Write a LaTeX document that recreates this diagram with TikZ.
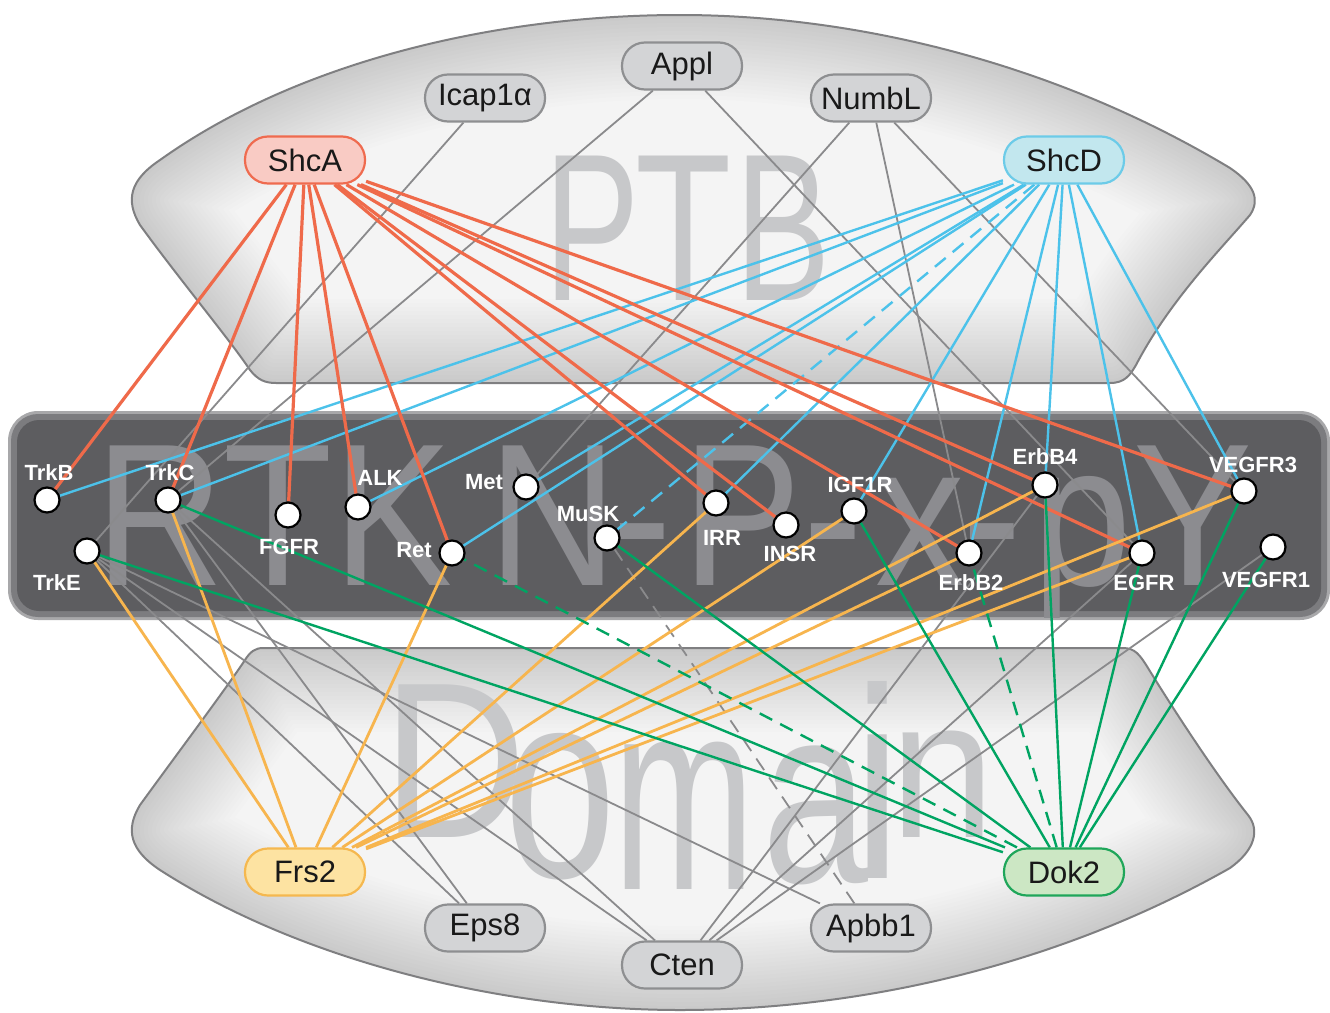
\documentclass[tikz,border=0pt]{standalone}
\usepackage{fontspec}
\usepackage{graphicx}
\setmainfont{Liberation Sans}
\definecolor{redE}{HTML}{EF6A4A}
\definecolor{blueE}{HTML}{4CC2EA}
\definecolor{orE}{HTML}{F7B54E}
\definecolor{grE}{HTML}{00A462}
\definecolor{grayE}{HTML}{8A8A8C}
\definecolor{shcaF}{HTML}{F9CBC4}
\definecolor{shcaD}{HTML}{EF6B4F}
\definecolor{shcdF}{HTML}{C2E7EE}
\definecolor{shcdD}{HTML}{6CCBE8}
\definecolor{frsF}{HTML}{FDE3A2}
\definecolor{frsD}{HTML}{F5B84F}
\definecolor{dokF}{HTML}{CCE7C4}
\definecolor{dokD}{HTML}{1FA65A}
\definecolor{gnF}{HTML}{D3D4D6}
\definecolor{gnD}{HTML}{8E8F91}
\definecolor{bandC}{HTML}{5D5D60}
\definecolor{bandM}{HTML}{7C7C7F}
\definecolor{bandO}{HTML}{A8A8AA}
\definecolor{bandT}{HTML}{8C8C90}
\definecolor{wmC}{HTML}{C7C8CA}
\definecolor{shapeF}{HTML}{F4F4F4}
\definecolor{shapeD}{HTML}{7F7F81}
\pgfdeclarelayer{bglayer}
\pgfdeclarelayer{edgelayer}
\pgfsetlayers{bglayer,edgelayer,main}
\tikzset{
  pnode/.style={rectangle, rounded corners=23pt, minimum width=120pt, minimum height=47pt,
    inner sep=0pt, line width=2.2pt, font=\fontsize{31}{36}\selectfont, text=black!90},
  graynode/.style={pnode, fill=gnF, draw=gnD},
  rtk/.style={circle, minimum size=25pt, inner sep=0pt, fill=white, draw=black, line width=2.2pt},
  rtklab/.style={text=white, font=\bfseries\fontsize{22}{26}\selectfont, inner sep=0pt},
  wm/.style={text=wmC, inner sep=0pt, anchor=base},
  bandtxt/.style={text=bandT, inner sep=0pt, anchor=base, font=\fontsize{203}{203}\selectfont},
  redl/.style={draw=redE, line width=3.2pt},
  bluel/.style={draw=blueE, line width=2.4pt},
  orl/.style={draw=orE, line width=2.8pt},
  grl/.style={draw=grE, line width=2.4pt},
  gryl/.style={draw=grayE, line width=1.8pt},
  dsh/.style={dash pattern=on 14pt off 9pt},
  ptbpath/.style={insert path={(276,383) -- (1110,383) .. controls (1125,383) and (1130,375) .. (1136,365)
    .. controls (1170,300) and (1220,250) .. (1250,215) .. controls (1260,200) and (1255,185) .. (1230,168)
    .. controls (1050,60) and (850,15) .. (680,15) .. controls (500,15) and (300,60) .. (160,160)
    .. controls (130,180) and (125,200) .. (140,225) .. controls (180,280) and (230,340) .. (250,370)
    .. controls (258,380) and (265,383) .. (276,383) -- cycle}},
  dompath/.style={insert path={(263,648) -- (1123,648) .. controls (1135,648) and (1140,655) .. (1148,668)
    .. controls (1180,720) and (1220,780) .. (1248,815) .. controls (1260,830) and (1255,850) .. (1230,868)
    .. controls (1050,970) and (850,1010) .. (680,1010) .. controls (500,1010) and (300,960) .. (160,870)
    .. controls (130,850) and (125,830) .. (140,805) .. controls (180,750) and (225,690) .. (245,660)
    .. controls (250,652) and (255,648) .. (263,648) -- cycle}}
}
\begin{document}
\begin{tikzpicture}[x=1pt, y=-1pt]
\useasboundingbox (0,0) rectangle (1330,1012);
\begin{pgfonlayer}{bglayer}
\fill[white] (0,0) rectangle (1330,1012);
% PTB domain shape
\fill[shapeF, ptbpath];
\begin{scope}
  \clip[ptbpath];
  \foreach \w in {8,16,...,168} {\draw[line width=\w pt, black, opacity=0.0085, ptbpath];}
\end{scope}
\draw[shapeD, line width=2pt, ptbpath];
% lower domain shape
\fill[shapeF, dompath];
\begin{scope}
  \clip[dompath];
  \foreach \w in {8,16,...,168} {\draw[line width=\w pt, black, opacity=0.0085, dompath];}
\end{scope}
\draw[shapeD, line width=2pt, dompath];
% watermark PTB
\node[wm, font=\fontsize{210}{210}\selectfont] (wP) at (592,300) {\scalebox{0.68}[1]{P}};
\node[wm, font=\fontsize{210}{210}\selectfont] (wT) at (684,300) {\scalebox{0.75}[1]{T}};
\node[wm, font=\fontsize{210}{210}\selectfont] (wB) at (783,300) {\scalebox{0.68}[1]{B}};
% watermark Domain
\node[wm, font=\fontsize{222}{222}\selectfont] (wD) at (455,837) {\scalebox{0.9}[1]{D}};
\node[wm, font=\fontsize{268}{268}\selectfont] (wo) at (560,877) {\scalebox{0.75}[1]{o}};
\node[wm, font=\fontsize{274}{274}\selectfont] (wm1) at (684,889) {\scalebox{0.62}[1]{m}};
\node[wm, font=\fontsize{254}{254}\selectfont] (wa) at (815,882) {\scalebox{0.75}[1]{a}};
\node[wm, font=\fontsize{272}{272}\selectfont] (wi) at (878,878) {\scalebox{0.8}[1]{i}};
\node[wm, font=\fontsize{198}{198}\selectfont] (wn) at (943,837) {\scalebox{0.95}[1]{n}};
% dark band
\fill[bandO, rounded corners=30pt] (8,411) rectangle (1330,620);
\fill[bandM, rounded corners=27pt] (11,414) rectangle (1327,617);
\fill[bandC, rounded corners=22pt] (17,420) rectangle (1321,611);
% band text, clipped to the band
\begin{scope}
\clip[rounded corners=27pt] (11,414) rectangle (1327,617);
\node[bandtxt] (bR) at (160,585) {\scalebox{0.88}[1]{R}};
\node[bandtxt] (bT) at (278,585) {\scalebox{0.88}[1]{T}};
\node[bandtxt] (bK) at (393,585) {\scalebox{0.88}[1]{K}};
\node[bandtxt] (bN) at (553,585) {\scalebox{0.88}[1]{N}};
\node[bandtxt] (bh1) at (642,585) {\scalebox{0.88}[1]{-}};
\node[bandtxt] (bP) at (742,585) {\scalebox{0.88}[1]{P}};
\node[bandtxt] (bh2) at (833,585) {\scalebox{0.88}[1]{-}};
\node[bandtxt] (bx) at (920,585) {\scalebox{0.88}[1]{x}};
\node[bandtxt] (bh3) at (992,585) {\scalebox{0.88}[1]{-}};
\node[bandtxt] (bp) at (1082,585) {\scalebox{0.88}[1]{p}};
\node[bandtxt] (bY) at (1193,585) {\scalebox{0.88}[1]{Y}};
\end{scope}
\end{pgfonlayer}
% protein nodes
\node[pnode, fill=shcaF, draw=shcaD] (ShcA) at (305,160) {ShcA};
\node[graynode] (Icap) at (485,98) {Icap1α};
\node[graynode] (Appl) at (682,66) {Appl};
\node[graynode] (NumbL) at (871,98) {NumbL};
\node[pnode, fill=shcdF, draw=shcdD] (ShcD) at (1064,160) {ShcD};
\node[pnode, fill=frsF, draw=frsD] (Frs2) at (305,872) {Frs2};
\node[graynode] (Eps8) at (485,928) {Eps8};
\node[graynode] (Cten) at (682,965) {Cten};
\node[graynode] (Apbb1) at (871,928) {Apbb1};
\node[pnode, fill=dokF, draw=dokD] (Dok2) at (1064,872) {Dok2};
% RTK circles
\node[rtk] (TrkB) at (47,500) {};
\node[rtk] (TrkC) at (168,500) {};
\node[rtk] (TrkE) at (87,551) {};
\node[rtk] (FGFR) at (288,515) {};
\node[rtk] (ALK) at (358,507) {};
\node[rtk] (Met) at (526,487) {};
\node[rtk] (MuSK) at (607,538) {};
\node[rtk] (Ret) at (452,553) {};
\node[rtk] (IRR) at (716,503) {};
\node[rtk] (INSR) at (786,525) {};
\node[rtk] (IGF1R) at (854,511) {};
\node[rtk] (ErbB4) at (1045,485) {};
\node[rtk] (ErbB2) at (969,553) {};
\node[rtk] (EGFR) at (1142,553) {};
\node[rtk] (VEGFR3) at (1244,491) {};
\node[rtk] (VEGFR1) at (1273,547) {};
% RTK labels
\node[rtklab] (lTrkB) at (49,473) {TrkB};
\node[rtklab] (lTrkC) at (170,473) {TrkC};
\node[rtklab] (lTrkE) at (57,583) {TrkE};
\node[rtklab] (lFGFR) at (289,547) {FGFR};
\node[rtklab] (lALK) at (380,478) {ALK};
\node[rtklab] (lMet) at (484,482) {Met};
\node[rtklab] (lMuSK) at (588,514) {MuSK};
\node[rtklab] (lRet) at (414,550) {Ret};
\node[rtklab] (lIRR) at (722,538) {IRR};
\node[rtklab] (lINSR) at (790,554) {INSR};
\node[rtklab] (lIGF1R) at (860,485) {IGF1R};
\node[rtklab] (lErbB4) at (1045,457) {ErbB4};
\node[rtklab] (lErbB2) at (971,583) {ErbB2};
\node[rtklab] (lEGFR) at (1144,583) {EGFR};
\node[rtklab] (lVEGFR3) at (1253,465) {VEGFR3};
\node[rtklab] (lVEGFR1) at (1266,580) {VEGFR1};
% edges
\begin{pgfonlayer}{edgelayer}
\draw[gryl] (Icap) -- (TrkE);
\draw[gryl] (Appl) -- (TrkC);
\draw[gryl] (Appl) -- (EGFR);
\foreach \t in {Met,ErbB2,VEGFR3} {\draw[gryl] (NumbL) -- (\t);}
\foreach \t in {TrkE,TrkC} {\draw[gryl] (Eps8) -- (\t);}
\foreach \t in {TrkE,TrkC,ErbB4,EGFR,VEGFR1} {\draw[gryl] (Cten) -- (\t);}
\draw[gryl] (Apbb1) -- (TrkE);
\draw[gryl, dsh] (Apbb1) -- (MuSK);
\foreach \t in {TrkB,TrkC,ALK,Met,Ret,IRR,IGF1R,ErbB2,ErbB4,EGFR,VEGFR3} {\draw[bluel] (ShcD) -- (\t);}
\draw[bluel, dsh] (ShcD) -- (MuSK);
\foreach \t in {TrkB,TrkC,FGFR,ALK,Ret,IRR,INSR,ErbB2,ErbB4,EGFR,VEGFR3} {\draw[redl] (ShcA) -- (\t);}
\foreach \t in {TrkE,TrkC,Ret,IRR,IGF1R,ErbB2,ErbB4,EGFR,VEGFR3} {\draw[orl] (Frs2) -- (\t);}
\foreach \t in {TrkE,TrkC,MuSK,IGF1R,ErbB4,EGFR,VEGFR3,VEGFR1} {\draw[grl] (Dok2) -- (\t);}
\draw[grl, dsh] (Dok2) -- (Ret);
\draw[grl, dsh] (Dok2) -- (ErbB2);
\end{pgfonlayer}
\end{tikzpicture}
\end{document}
